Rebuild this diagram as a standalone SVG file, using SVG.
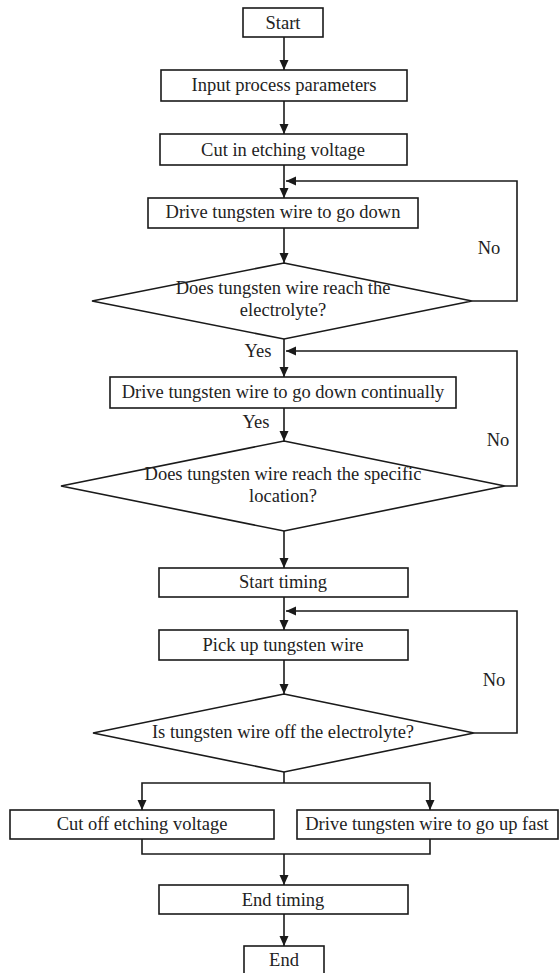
<svg xmlns="http://www.w3.org/2000/svg" width="559" height="973" viewBox="0 0 559 973">
<defs>
<marker id="ah" markerUnits="userSpaceOnUse" markerWidth="10" markerHeight="10" refX="10" refY="5" orient="auto">
<path d="M0,0.5 L10,5 L0,9.5 z" fill="#1a1a1a"/>
</marker>
<style>
.b{fill:#fff;stroke:#1a1a1a;stroke-width:1.6}
.t{font-size:18.5px;fill:#222;text-anchor:middle}
.c{fill:none;stroke:#1a1a1a;stroke-width:1.6}
.a{marker-end:url(#ah)}
</style>
</defs>
<rect width="559" height="973" fill="#fff"/>
<g id="connectors">
<line class="c a" x1="284" y1="37" x2="284" y2="70"/>
<line class="c a" x1="284" y1="101" x2="284" y2="134"/>
<line class="c a" x1="284" y1="165" x2="284" y2="198"/>
<polyline class="c a" points="472,301 517,301 517,181 286,181"/>
<line class="c a" x1="284" y1="228" x2="284" y2="263"/>
<line class="c a" x1="284" y1="339" x2="284" y2="377"/>
<polyline class="c a" points="505,486 517,486 517,351 286,351"/>
<line class="c a" x1="284" y1="408" x2="284" y2="441"/>
<line class="c a" x1="284" y1="531" x2="284" y2="568"/>
<line class="c a" x1="284" y1="597" x2="284" y2="630"/>
<polyline class="c a" points="474,733 517,733 517,611 286,611"/>
<line class="c a" x1="284" y1="660" x2="284" y2="694"/>
<line class="c" x1="284" y1="772" x2="284" y2="783"/>
<polyline class="c a" points="284,783 142,783 142,810"/>
<polyline class="c a" points="284,783 430,783 430,810"/>
<polyline class="c" points="142,839 142,854 430,854 430,839"/>
<line class="c a" x1="284" y1="854" x2="284" y2="885"/>
<line class="c a" x1="284" y1="914" x2="284" y2="946"/>
</g>
<g font-family="'Liberation Serif', 'DejaVu Serif', serif">
<g id="start"><rect class="b" x="243" y="8" width="80" height="29"/><text class="t" x="283" y="28.5">Start</text></g>
<g id="input"><rect class="b" x="161" y="70" width="246" height="31"/><text class="t" x="284" y="91">Input process parameters</text></g>
<g id="cutin"><rect class="b" x="160" y="134" width="247" height="31"/><text class="t" x="283" y="155.5">Cut in etching voltage</text></g>
<g id="drivedown"><rect class="b" x="148" y="198" width="270" height="30"/><text class="t" x="283" y="217.5">Drive tungsten wire to go down</text></g>
<g id="decision1"><polygon class="b" points="284,263 472,301 284,339 92,301"/><text class="t" x="283" y="293.5">Does tungsten wire reach the</text><text class="t" x="283" y="315.5">electrolyte?</text></g>
<g id="drivecont"><rect class="b" x="110" y="377" width="346" height="31"/><text class="t" x="283" y="397.5">Drive tungsten wire to go down continually</text></g>
<g id="decision2"><polygon class="b" points="284,441 505,486 284,531 61,486"/><text class="t" x="283" y="480">Does tungsten wire reach the specific</text><text class="t" x="283" y="502">location?</text></g>
<g id="starttiming"><rect class="b" x="159" y="568" width="249" height="29"/><text class="t" x="283" y="587.5">Start timing</text></g>
<g id="pickup"><rect class="b" x="159" y="630" width="249" height="30"/><text class="t" x="283" y="650.5">Pick up tungsten wire</text></g>
<g id="decision3"><polygon class="b" points="284,694 474,733 284,772 93,733"/><text class="t" x="283" y="737.5">Is tungsten wire off the electrolyte?</text></g>
<g id="cutoff"><rect class="b" x="10" y="810" width="264" height="29"/><text class="t" x="142" y="830">Cut off etching voltage</text></g>
<g id="driveup"><rect class="b" x="297" y="810" width="261" height="29"/><text class="t" x="427" y="830">Drive tungsten wire to go up fast</text></g>
<g id="endtiming"><rect class="b" x="159" y="885" width="249" height="29"/><text class="t" x="283" y="905.5">End timing</text></g>
<g id="end"><rect class="b" x="244" y="946" width="80" height="40"/><text class="t" x="284" y="966">End</text></g>
<g id="labels">
<text class="t" x="258" y="357">Yes</text>
<text class="t" x="256" y="428">Yes</text>
<text class="t" x="489" y="254">No</text>
<text class="t" x="498" y="446">No</text>
<text class="t" x="494" y="686">No</text>
</g>
</g>
</svg>
